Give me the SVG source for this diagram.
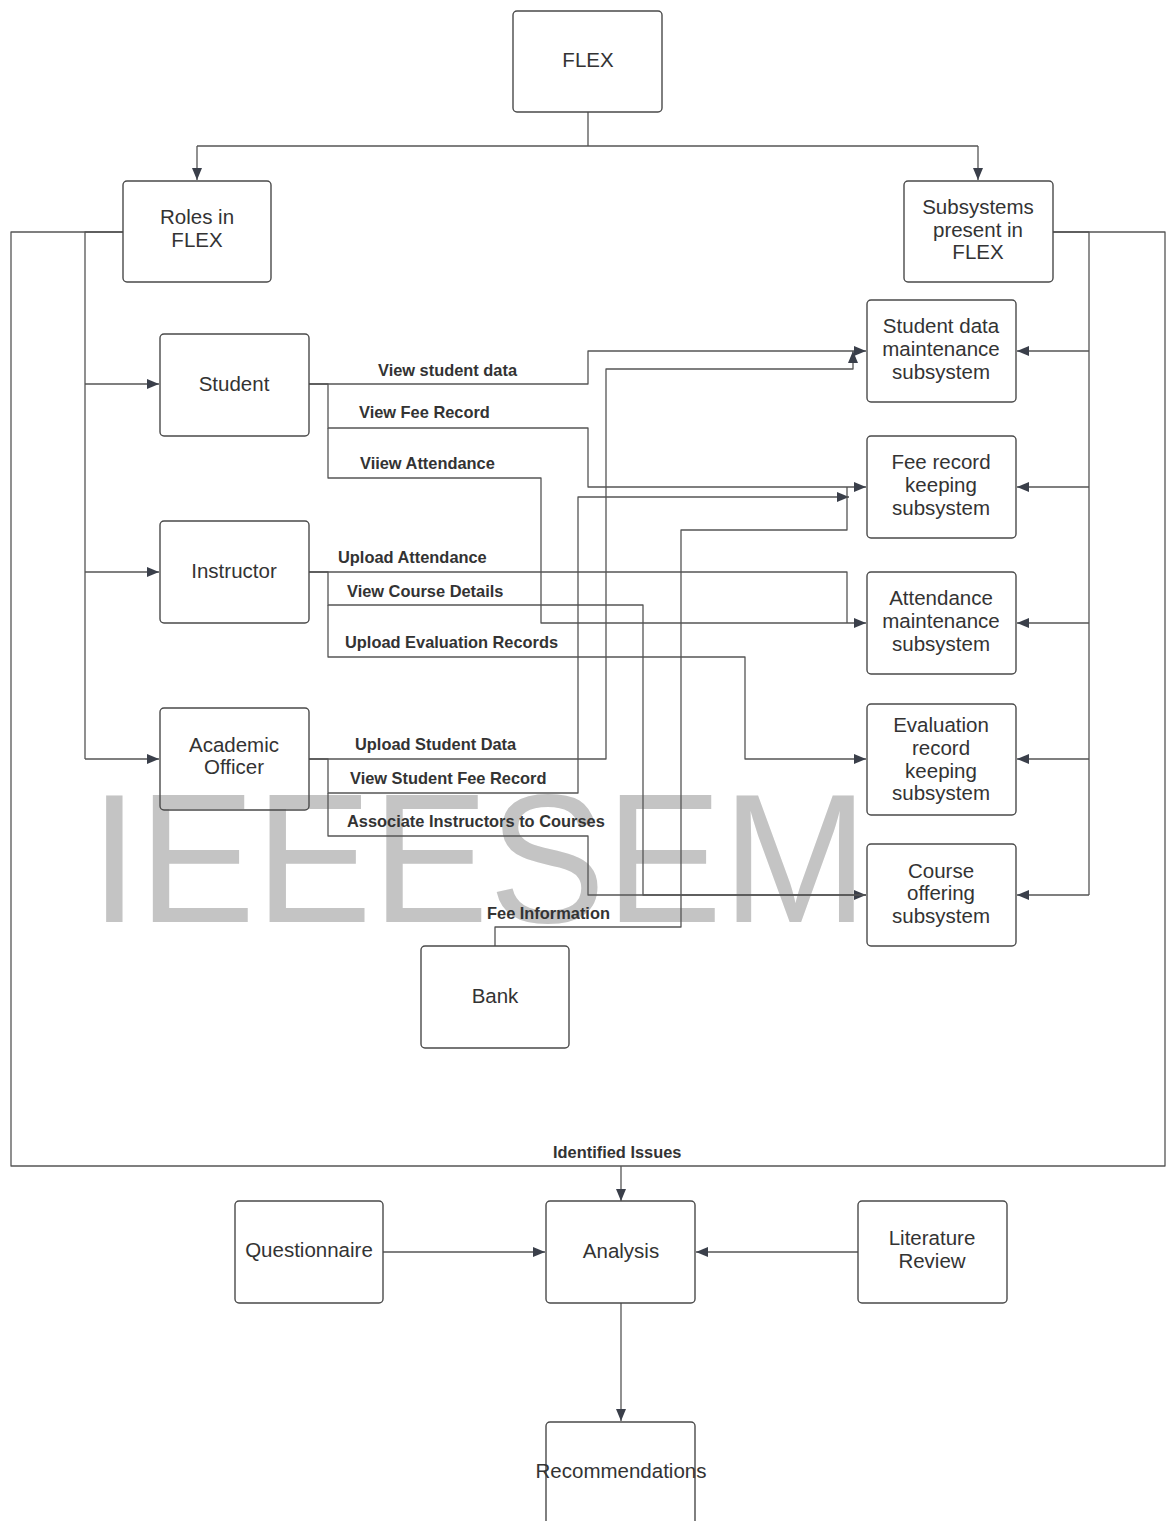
<svg xmlns="http://www.w3.org/2000/svg" width="1171" height="1521" viewBox="0 0 1171 1521">
<style>
.box{fill:none;stroke:#4a4a4a;stroke-width:1.4}
.nt{font-family:"Liberation Sans",Arial,sans-serif;font-size:20.5px;fill:#333;text-anchor:middle}
.lb{font-family:"Liberation Sans",Arial,sans-serif;font-size:16.4px;font-weight:bold;fill:#333}
.c{fill:none;stroke:#555;stroke-width:1.3;stroke-linejoin:round}
.wm{font-family:"Liberation Sans",Arial,sans-serif;font-size:184px;fill:#c4c4c4}
</style>
<defs>
<marker id="arr" viewBox="0 0 12 10" refX="12" refY="5" markerWidth="13" markerHeight="10" orient="auto" markerUnits="userSpaceOnUse">
<path d="M0,0 L12,5 L0,10 z" fill="#3a3f4a"/>
</marker>
</defs>
<rect width="1171" height="1521" fill="#fff"/>

<text class="wm" x="90" y="922" textLength="778" lengthAdjust="spacingAndGlyphs">IEEESEM</text>

<g id="connectors">
<path class="c" d="M588,112 V146 M197,146 H978" />
<path class="c" d="M197,146 V180" marker-end="url(#arr)"/>
<path class="c" d="M978,146 V180" marker-end="url(#arr)"/>
<path class="c" d="M123,232 H11 V1166 H1165 V232 H1053"/>
<path class="c" d="M621,1166 V1201" marker-end="url(#arr)"/>
<path class="c" d="M123,232 H85 V759"/>
<path class="c" d="M85,384 H159" marker-end="url(#arr)"/>
<path class="c" d="M85,572 H159" marker-end="url(#arr)"/>
<path class="c" d="M85,759 H159" marker-end="url(#arr)"/>
<path class="c" d="M1053,232 H1089 V895"/>
<path class="c" d="M1089,351 H1017" marker-end="url(#arr)"/>
<path class="c" d="M1089,487 H1017" marker-end="url(#arr)"/>
<path class="c" d="M1089,623 H1017" marker-end="url(#arr)"/>
<path class="c" d="M1089,759 H1017" marker-end="url(#arr)"/>
<path class="c" d="M1089,895 H1017" marker-end="url(#arr)"/>
<path class="c" d="M309,384 H588 V351 H866" marker-end="url(#arr)"/>
<path class="c" d="M309,384 H328 V428 H588 V487 H866" marker-end="url(#arr)"/>
<path class="c" d="M328,428 V478 H541 V623 H866" marker-end="url(#arr)"/>
<path class="c" d="M309,572 H847 V623"/>
<path class="c" d="M309,572 H328 V605 H643 V895 H866" marker-end="url(#arr)"/>
<path class="c" d="M328,605 V657 H745 V759 H866" marker-end="url(#arr)"/>
<path class="c" d="M309,759 H606 V369 H853 V351" marker-end="url(#arr)"/>
<path class="c" d="M309,759 H328 V793 H578 V497 H849" marker-end="url(#arr)"/>
<path class="c" d="M328,793 V836 H588 V895 H866"/>
<path class="c" d="M495,946 V927 H681 V530 H847 V487"/>
<path class="c" d="M383,1252 H545" marker-end="url(#arr)"/>
<path class="c" d="M858,1252 H696" marker-end="url(#arr)"/>
<path class="c" d="M621,1303 V1421" marker-end="url(#arr)"/>
</g>

<g id="labels">
<text class="lb" x="378" y="375.5">View student data</text>
<text class="lb" x="359" y="417.5">View Fee Record</text>
<text class="lb" x="360" y="468.5">Viiew Attendance</text>
<text class="lb" x="338" y="562.5">Upload Attendance</text>
<text class="lb" x="347" y="596.5">View Course Details</text>
<text class="lb" x="345" y="647.5">Upload Evaluation Records</text>
<text class="lb" x="355" y="749.5">Upload Student Data</text>
<text class="lb" x="350" y="783.5">View Student Fee Record</text>
<text class="lb" x="347" y="826.5">Associate Instructors to Courses</text>
<text class="lb" x="487" y="918.5">Fee Information</text>
<text class="lb" x="553" y="1157.5">Identified Issues</text>
</g>

<g id="flex"><rect class="box" x="513" y="11" width="149" height="101" rx="4"/><text class="nt" x="588" y="67">FLEX</text></g>
<g id="roles"><rect class="box" x="123" y="181" width="148" height="101" rx="4"/><text class="nt" x="197" y="224">Roles in</text><text class="nt" x="197" y="247">FLEX</text></g>
<g id="subsystems"><rect class="box" x="904" y="181" width="149" height="101" rx="4"/><text class="nt" x="978" y="214">Subsystems</text><text class="nt" x="978" y="237">present in</text><text class="nt" x="978" y="259">FLEX</text></g>
<g id="student"><rect class="box" x="160" y="334" width="149" height="102" rx="4"/><text class="nt" x="234" y="391">Student</text></g>
<g id="instructor"><rect class="box" x="160" y="521" width="149" height="102" rx="4"/><text class="nt" x="234" y="578">Instructor</text></g>
<g id="academic"><rect class="box" x="160" y="708" width="149" height="102" rx="4"/><text class="nt" x="234" y="752">Academic</text><text class="nt" x="234" y="774">Officer</text></g>
<g id="sdm"><rect class="box" x="867" y="300" width="149" height="102" rx="4"/><text class="nt" x="941" y="333">Student data</text><text class="nt" x="941" y="356">maintenance</text><text class="nt" x="941" y="379">subsystem</text></g>
<g id="frk"><rect class="box" x="867" y="436" width="149" height="102" rx="4"/><text class="nt" x="941" y="469">Fee record</text><text class="nt" x="941" y="492">keeping</text><text class="nt" x="941" y="515">subsystem</text></g>
<g id="ams"><rect class="box" x="867" y="572" width="149" height="102" rx="4"/><text class="nt" x="941" y="605">Attendance</text><text class="nt" x="941" y="628">maintenance</text><text class="nt" x="941" y="651">subsystem</text></g>
<g id="erk"><rect class="box" x="867" y="704" width="149" height="111" rx="4"/><text class="nt" x="941" y="732">Evaluation</text><text class="nt" x="941" y="755">record</text><text class="nt" x="941" y="778">keeping</text><text class="nt" x="941" y="800">subsystem</text></g>
<g id="cos"><rect class="box" x="867" y="844" width="149" height="102" rx="4"/><text class="nt" x="941" y="878">Course</text><text class="nt" x="941" y="900">offering</text><text class="nt" x="941" y="923">subsystem</text></g>
<g id="bank"><rect class="box" x="421" y="946" width="148" height="102" rx="4"/><text class="nt" x="495" y="1003">Bank</text></g>
<g id="questionnaire"><rect class="box" x="235" y="1201" width="148" height="102" rx="4"/><text class="nt" x="309" y="1257">Questionnaire</text></g>
<g id="analysis"><rect class="box" x="546" y="1201" width="149" height="102" rx="4"/><text class="nt" x="621" y="1258">Analysis</text></g>
<g id="literature"><rect class="box" x="858" y="1201" width="149" height="102" rx="4"/><text class="nt" x="932" y="1245">Literature</text><text class="nt" x="932" y="1268">Review</text></g>
<g id="recommendations"><rect class="box" x="546" y="1422" width="149" height="110" rx="4"/><text class="nt" x="621" y="1478">Recommendations</text></g>
</svg>
